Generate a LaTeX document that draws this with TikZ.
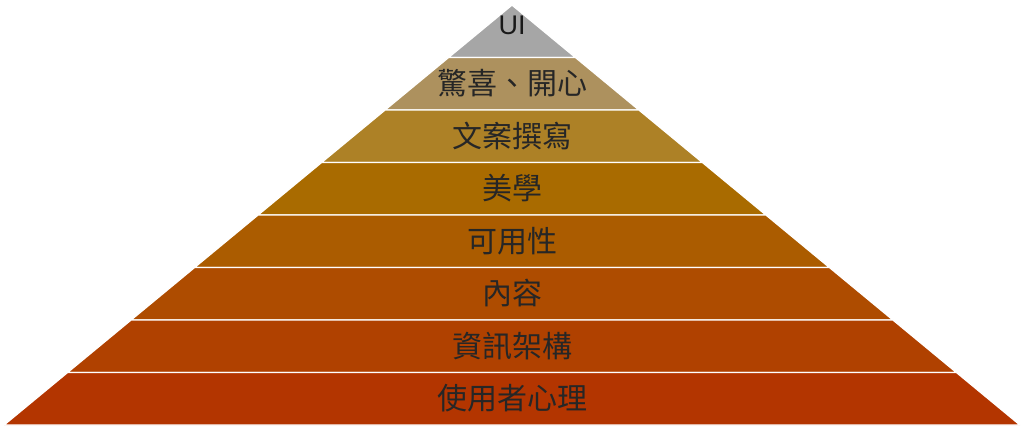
\documentclass[tikz,border=0pt]{standalone}
\usepackage{fontspec}
\newfontfamily\cjk{Noto Sans CJK TC}
\newfontfamily\latinsans{Liberation Sans}
\definecolor{c0}{HTML}{A6A6A6}
\definecolor{c1}{HTML}{AD915E}
\definecolor{c2}{HTML}{AD8126}
\definecolor{c3}{HTML}{A96B00}
\definecolor{c4}{HTML}{AB5C00}
\definecolor{c5}{HTML}{AE4C00}
\definecolor{c6}{HTML}{B04100}
\definecolor{c7}{HTML}{B33500}
\tikzset{
  layer/.style={draw=white, line width=1.4pt, line join=miter},
  lbl/.style={font=\cjk\fontsize{30}{32}\selectfont, text=black!85, inner sep=0pt},
  uilbl/.style={font=\latinsans\fontsize{27}{29}\selectfont, text=black!90, inner sep=0pt}
}
\begin{document}
\begin{tikzpicture}[x=1pt,y=1pt]
\useasboundingbox (0,0) rectangle (1024,440);
\foreach \i/\col in {0/c0,1/c1,2/c2,3/c3,4/c4,5/c5,6/c6,7/c7} {
  \pgfmathsetmacro\yt{435-52.5*\i}
  \pgfmathsetmacro\yb{\yt-52.5}
  \pgfmathsetmacro\wt{63.5*\i}
  \pgfmathsetmacro\wb{63.5*(\i+1)}
  \path[layer, fill=\col] (512-\wt,\yt) -- (512+\wt,\yt) -- (512+\wb,\yb) -- (512-\wb,\yb) -- cycle;
}
\node[uilbl] (t0) at (512,414.5) {UI};
\node[lbl] (t1) at (512,356.5) {驚喜、開心};
\node[lbl] (t2) at (512,304) {文案撰寫};
\node[lbl] (t3) at (512,251.5) {美學};
\node[lbl] (t4) at (512,199) {可用性};
\node[lbl] (t5) at (512,146.5) {內容};
\node[lbl] (t6) at (512,94) {資訊架構};
\node[lbl] (t7) at (512,41.5) {使用者心理};
\end{tikzpicture}
\end{document}
